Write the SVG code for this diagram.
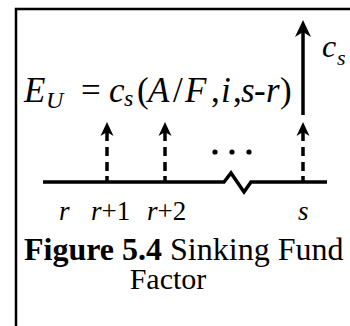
<svg xmlns="http://www.w3.org/2000/svg" width="350" height="326" viewBox="0 0 350 326">
<style>
.m{font-family:"Liberation Serif","Times New Roman",serif;font-style:italic;fill:#000}
.u{font-family:"Liberation Serif","Times New Roman",serif;font-style:normal;fill:#000}
.b{font-weight:bold}
.ln{stroke:#000;fill:none}
.d{stroke-width:3.5;stroke-dasharray:12 6 9 6 9 5 10}
</style>
<defs>
<path id="head" d="M0,0 L6.5,14 L0,10 L-6.5,14 Z" fill="#000"/>
<path id="bighead" d="M0,0 L8,17 L0,12 L-8,17 Z" fill="#000"/>
</defs>
<rect width="350" height="326" fill="#fff"/>
<g id="frame">
<path class="ln" d="M16,326 V9 H350" stroke-width="2.5"/>
</g>
<g id="connectors">
<path class="ln" d="M43,182 H224 L231,173 L244,192 L251,182 H327" stroke-width="3.5"/>
<path class="ln" d="M303,115 V30" stroke-width="3.5"/>
<use href="#bighead" x="303" y="20"/>
<path class="ln d" d="M107,129 V181"/>
<use href="#head" x="107" y="122"/>
<path class="ln d" d="M165,129 V181"/>
<use href="#head" x="165" y="122"/>
<path class="ln d" d="M303,129 V181"/>
<use href="#head" x="303" y="122"/>
</g>
<g id="dots" fill="#000">
<circle cx="215" cy="152" r="2.6"/>
<circle cx="232" cy="152" r="2.6"/>
<circle cx="249" cy="152" r="2.6"/>
</g>
<g id="equation">
<text class="m" font-size="35" x="24" y="102">E</text>
<text class="m" font-size="24" x="46" y="108">U</text>
<text class="u" font-size="35" x="81" y="102">=</text>
<text class="m" font-size="35" x="109" y="102">c</text>
<text class="m" font-size="24" x="124" y="106">s</text>
<text class="u" font-size="35" x="137" y="102">(</text>
<text class="m" font-size="35" x="148" y="102">A</text>
<text class="u" font-size="35" x="173" y="102">/</text>
<text class="m" font-size="35" x="185" y="102">F</text>
<text class="u" font-size="35" x="211" y="102">,</text>
<text class="m" font-size="35" x="221" y="102">i</text>
<text class="u" font-size="35" x="233" y="102">,</text>
<text class="m" font-size="35" x="241" y="102">s</text>
<text class="u" font-size="35" x="254" y="102">-</text>
<text class="m" font-size="35" x="266" y="102">r</text>
<text class="u" font-size="35" x="280" y="102">)</text>
</g>
<g id="label-cs">
<text class="m" font-size="32" x="322" y="57">c</text>
<text class="m" font-size="22" x="337" y="65">s</text>
</g>
<g id="ticks">
<text class="m" font-size="27" x="59" y="220">r</text>
<text class="m" font-size="27" x="91" y="220">r<tspan class="u">+1</tspan></text>
<text class="m" font-size="27" x="147" y="220">r<tspan class="u">+2</tspan></text>
<text class="m" font-size="27" x="298" y="220">s</text>
</g>
<g id="caption">
<text class="u" font-size="32" x="24" y="260"><tspan class="b">Figure 5.4</tspan>  Sinking Fund</text>
<text class="u" font-size="30" x="168" y="289" text-anchor="middle">Factor</text>
</g>
</svg>
